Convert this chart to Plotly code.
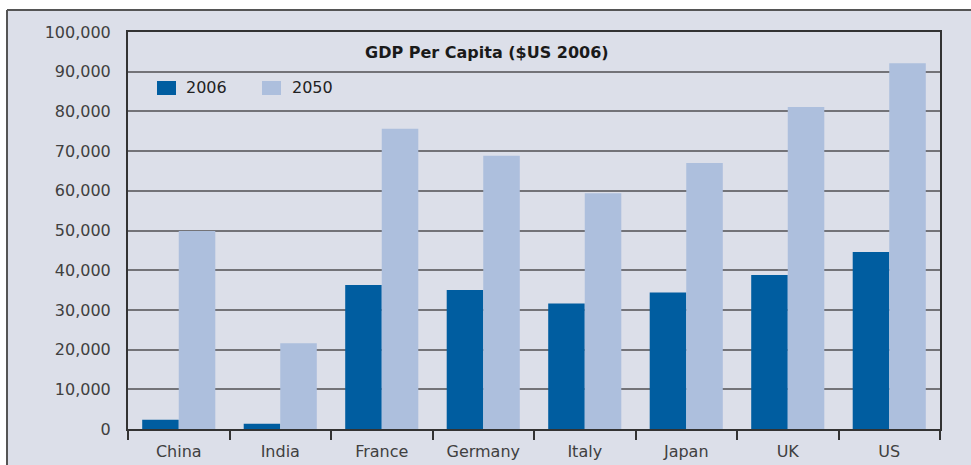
import plotly.graph_objects as go

# GDP per capita, US dollars at 2006 prices
countries = ["China", "India", "France", "Germany", "Italy", "Japan", "UK", "US"]
gdp_2006 = [2300, 1300, 36300, 35000, 31600, 34400, 38800, 44600]
gdp_2050 = [49900, 21600, 75600, 68800, 59400, 67000, 81100, 92100]
series_names = ["2006", "2050"]
y_ticks = [0, 10000, 20000, 30000, 40000, 50000, 60000, 70000, 80000, 90000, 100000]
y_tick_labels = ["0", "10,000", "20,000", "30,000", "40,000", "50,000",
                 "60,000", "70,000", "80,000", "90,000", "100,000"]

W, H = 971, 465
L, R, T, B = 128, 31, 32, 36
PW, PH = W - L - R, H - T - B

DARK = "#005da0"
LIGHT = "#adbfdd"
BG = "#dcdfe9"
FONT = "DejaVu Sans, Verdana, sans-serif"


def px_x(px):
    return (px - L) / PW


def px_y(py):
    return (H - B - py) / PH


fig = go.Figure()
fig.add_trace(go.Bar(x=countries, y=gdp_2006, name=series_names[0], marker_color=DARK,
                     marker_line_width=0, showlegend=False))
fig.add_trace(go.Bar(x=countries, y=gdp_2050, name=series_names[1], marker_color=LIGHT,
                     marker_line_width=0, showlegend=False))

shapes = [
    # white strip above and left of the framed panel
    dict(type="rect", xref="paper", yref="paper", x0=px_x(0), x1=px_x(W), y0=px_y(0), y1=px_y(10),
         fillcolor="white", line_width=0, layer="below"),
    dict(type="rect", xref="paper", yref="paper", x0=px_x(0), x1=px_x(7), y0=px_y(0), y1=px_y(H),
         fillcolor="white", line_width=0, layer="below"),
    dict(type="line", xref="paper", yref="paper", x0=px_x(7), x1=px_x(W), y0=px_y(10), y1=px_y(10),
         line=dict(color="#555555", width=2)),
    dict(type="line", xref="paper", yref="paper", x0=px_x(7), x1=px_x(7), y0=px_y(10), y1=px_y(H),
         line=dict(color="#555555", width=2)),
]
annotations = [dict(text="<b>GDP Per Capita ($US 2006)</b>", xref="paper", yref="paper",
                    x=px_x(487), y=px_y(52), xanchor="center", yanchor="middle",
                    showarrow=False, font=dict(size=16, color="#1a1a1a"))]

# legend: swatch + label for each series
for (sx, tx), color, name in zip([(157, 184), (262, 290)], [DARK, LIGHT], series_names):
    shapes.append(dict(type="rect", xref="paper", yref="paper",
                       x0=px_x(sx), x1=px_x(sx + 19), y0=px_y(95), y1=px_y(81),
                       fillcolor=color, line_width=0))
    annotations.append(dict(text=name, xref="paper", yref="paper", x=px_x(tx), y=px_y(87),
                            xanchor="left", yanchor="middle", showarrow=False,
                            font=dict(size=16, color="#222222")))

fig.update_layout(
    width=W, height=H,
    margin=dict(l=L, r=R, t=T, b=B, pad=0, autoexpand=False),
    paper_bgcolor=BG, plot_bgcolor=BG,
    barmode="group", bargap=0.28, bargroupgap=0,
    font=dict(family=FONT, size=16, color="#404040"),
    annotations=annotations,
    shapes=shapes,
)

fig.update_xaxes(
    automargin=False,
    showline=True, linecolor="#333333", linewidth=2, mirror=True,
    ticks="outside", tickson="boundaries", ticklen=9, tickwidth=2, tickcolor="#333333",
    showgrid=False, ticklabelstandoff=7, tickfont=dict(size=16, color="#404040"),
)
fig.update_yaxes(
    automargin=False,
    range=[0, 100000], tickvals=y_ticks, ticktext=y_tick_labels,
    showline=True, linecolor="#333333", linewidth=2, mirror=True,
    showgrid=True, gridcolor="#737378", gridwidth=2, zeroline=False,
    ticks="", ticklabelstandoff=12, tickfont=dict(size=16, color="#404040"),
)

fig.write_html("out.html")
